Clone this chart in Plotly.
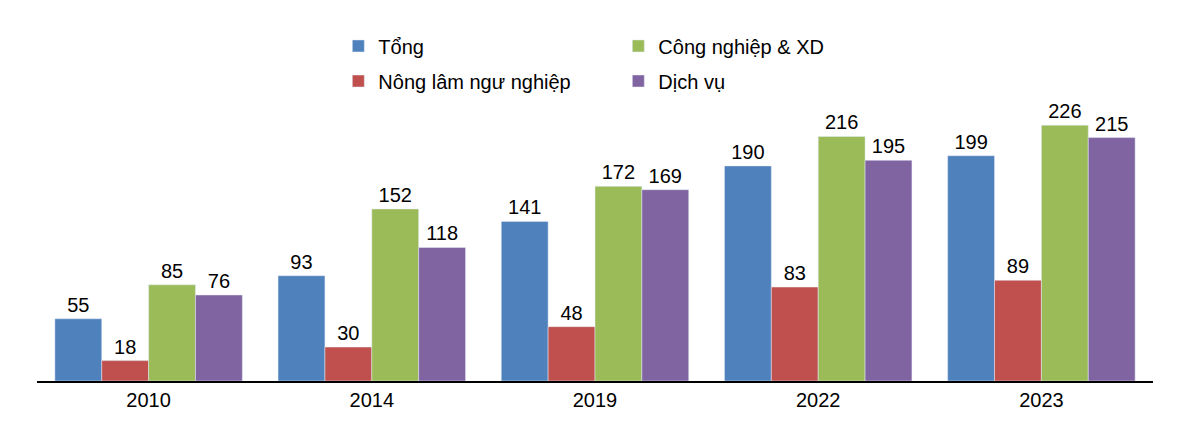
import plotly.graph_objects as go

years = ["2010", "2014", "2019", "2022", "2023"]
tong = [55, 93, 141, 190, 199]
nong = [18, 30, 48, 83, 89]
cong = [85, 152, 172, 216, 226]
dich = [76, 118, 169, 195, 215]

series = [
    ("Tổng", tong, "#4f81bd", "legend"),
    ("Nông lâm ngư nghiệp", nong, "#c0504d", "legend2"),
    ("Công nghiệp & XD", cong, "#9bbb59", "legend"),
    ("Dịch vụ", dich, "#8064a2", "legend2"),
]

fig = go.Figure()
for name, vals, color, lg in series:
    fig.add_trace(go.Bar(
        x=years, y=vals, name=name, marker_color=color, legend=lg,
        text=vals, textposition="outside", cliponaxis=False,
        textfont=dict(size=20, color="black"),
    ))

legend_common = dict(orientation="h", xanchor="left", x=0.27, entrywidth=235,
                     entrywidthmode="pixels", font=dict(size=20, color="black"),
                     bgcolor="rgba(0,0,0,0)")

fig.update_layout(
    width=1200, height=425,
    margin=dict(l=29, r=55, t=90, b=52),
    plot_bgcolor="white", paper_bgcolor="white",
    font=dict(family="Liberation Sans, Arial, sans-serif", color="black"),
    barmode="group", bargap=0.16, bargroupgap=0,
    legend=dict(y=1.184, yanchor="middle", **legend_common),
    legend2=dict(y=1.06, yanchor="middle", **legend_common),
    xaxis=dict(showline=True, linecolor="black", linewidth=1.5,
               tickfont=dict(size=20), ticks=""),
    yaxis=dict(range=[0, 250], visible=False),
)

fig.write_html("out.html")
